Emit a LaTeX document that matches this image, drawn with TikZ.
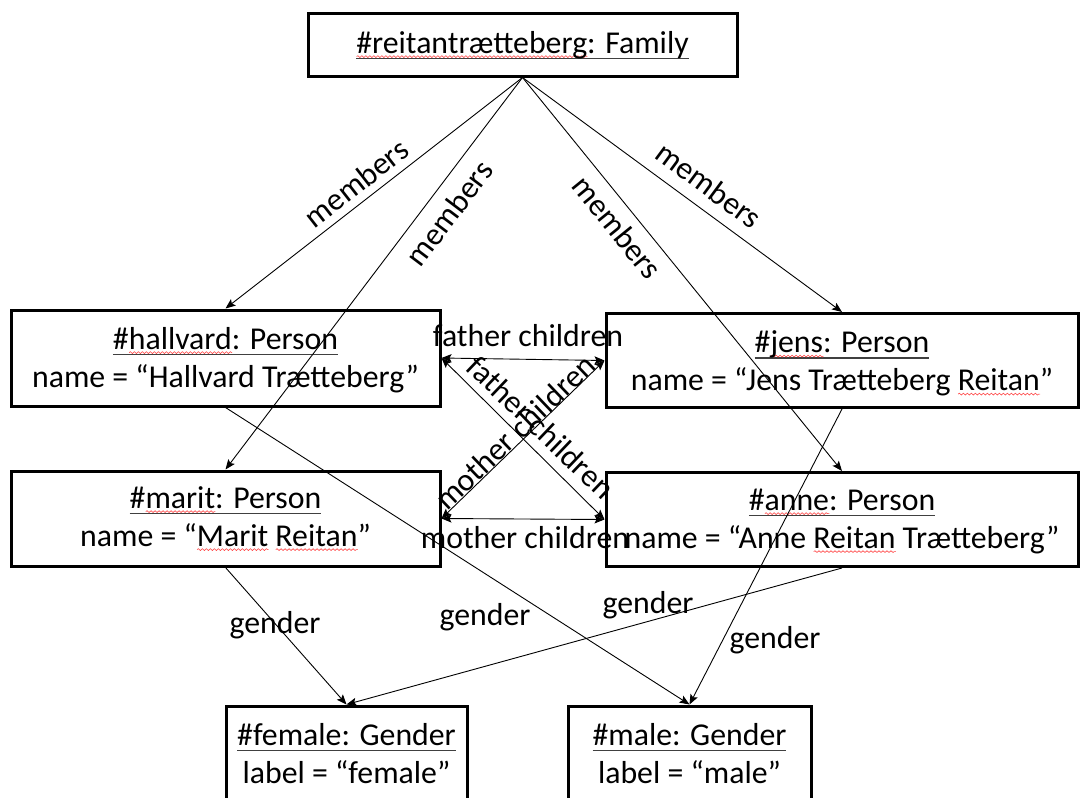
\documentclass[tikz,border=0pt]{standalone}
\usepackage{fontspec}
\setmainfont{Carlito}
\usetikzlibrary{arrows.meta,decorations.pathmorphing}
\tikzset{
  obj/.style={draw, line width=3pt, rectangle, inner sep=0pt, align=center, font=\fontsize{31.8}{38}\selectfont},
  lbl/.style={inner sep=0pt, font=\fontsize{31.8}{38}\selectfont},
  tip/.tip={Stealth[length=10pt,width=8pt,inset=2pt]},
  conn/.style={line width=0.9pt, -tip},
  rel/.style={line width=0.9pt, tip-tip},
  wavy/.style={draw=red!75, line width=0.6pt, decorate, decoration={snake, amplitude=0.9pt, segment length=4pt}}
}
\newlength\sqlen
\newlength\ullen
\newcommand\sqw[1]{\settowidth\sqlen{#1}\rlap{\smash{\tikz[baseline=0pt]\draw[wavy](0pt,-3.6pt)--(\sqlen,-3.6pt);}}#1}
\newcommand\ulx[1]{\settowidth\ullen{#1}\rlap{\smash{\color{black!75}\rule[-6.2pt]{\ullen}{1.3pt}}}#1}
\newcommand\hs[1]{\rule{0pt}{#1pt}}
\newcommand\ds{\rule[-10pt]{0pt}{10pt}}
\begin{document}
\begin{tikzpicture}[x=1pt,y=-1pt]
\useasboundingbox (0,0) rectangle (1080,798);
% objects
\node[obj, minimum width=429pt, minimum height=63pt] (fam) at (522.5,44.5) {\hs{27}\ulx{\sqw{\#reitantrætteberg}: Family}\ds};
\node[obj, minimum width=429pt, minimum height=96pt] (hal) at (225.5,358) {\hs{30}\ulx{\#\sqw{hallvard}: Person}\\name = “Hallvard Trætteberg”\ds};
\node[obj, minimum width=472pt, minimum height=94pt] (jen) at (842,360.5) {\hs{32}\ulx{\#\sqw{jens}: Person}\\name = “Jens Trætteberg \sqw{Reitan}”\ds};
\node[obj, minimum width=429pt, minimum height=95pt] (mar) at (225.5,518.5) {\hs{27}\ulx{\#\sqw{marit}: Person}\\name = “\sqw{Marit} \sqw{Reitan}”\ds};
\node[obj, minimum width=472pt, minimum height=94pt] (ann) at (842,519.5) {\hs{29}\ulx{\#\sqw{anne}: Person}\\name = “Anne \sqw{Reitan} Trætteberg”\ds};
\node[obj, minimum width=241pt, minimum height=96pt] (fem) at (346.5,754) {\hs{30}\ulx{\#female: Gender}\\label = “female”\ds};
\node[obj, minimum width=243pt, minimum height=96pt] (mal) at (689.5,754) {\hs{30}\ulx{\#male: Gender}\\label = “male”\ds};
% members
\draw[conn] (fam.south) -- (hal.north);
\draw[conn] (fam.south) -- (mar.north);
\draw[conn] (fam.south) -- (ann.north);
\draw[conn] (fam.south) -- (jen.north);
% relations
\draw[rel] (hal.east) -- (jen.west);
\draw[rel] (hal.east) -- (ann.west);
\draw[rel] (jen.west) -- (mar.east);
\draw[rel] (mar.east) -- (ann.west);
% gender
\draw[conn] (mar.south) -- (fem.north);
\draw[conn] (hal.south) -- (mal.north);
\draw[conn] (ann.south) -- (fem.north);
\draw[conn] (jen.south) -- (mal.north);
% labels
\node[lbl, rotate=38] (m1) at (356,183) {members};
\node[lbl, rotate=52.9] (m2) at (449,213) {members};
\node[lbl, rotate=-50.9] (m3) at (617,227) {members};
\node[lbl, rotate=-36.5] (m4) at (709,185) {members};
\node[lbl, anchor=base] (fc1) at (528,346) {father children};
\node[lbl, anchor=base] (mc1) at (525,548) {mother children};
\node[lbl, rotate=-43.7] (fc2) at (541,427) {father children};
\node[lbl, rotate=43.7] (mc2) at (515,432) {mother children};
\node[lbl, anchor=base] (g1) at (275,633) {gender};
\node[lbl, anchor=base] (g2) at (485,625) {gender};
\node[lbl, anchor=base] (g3) at (648,613) {gender};
\node[lbl, anchor=base] (g4) at (775,648) {gender};
\end{tikzpicture}
\end{document}
